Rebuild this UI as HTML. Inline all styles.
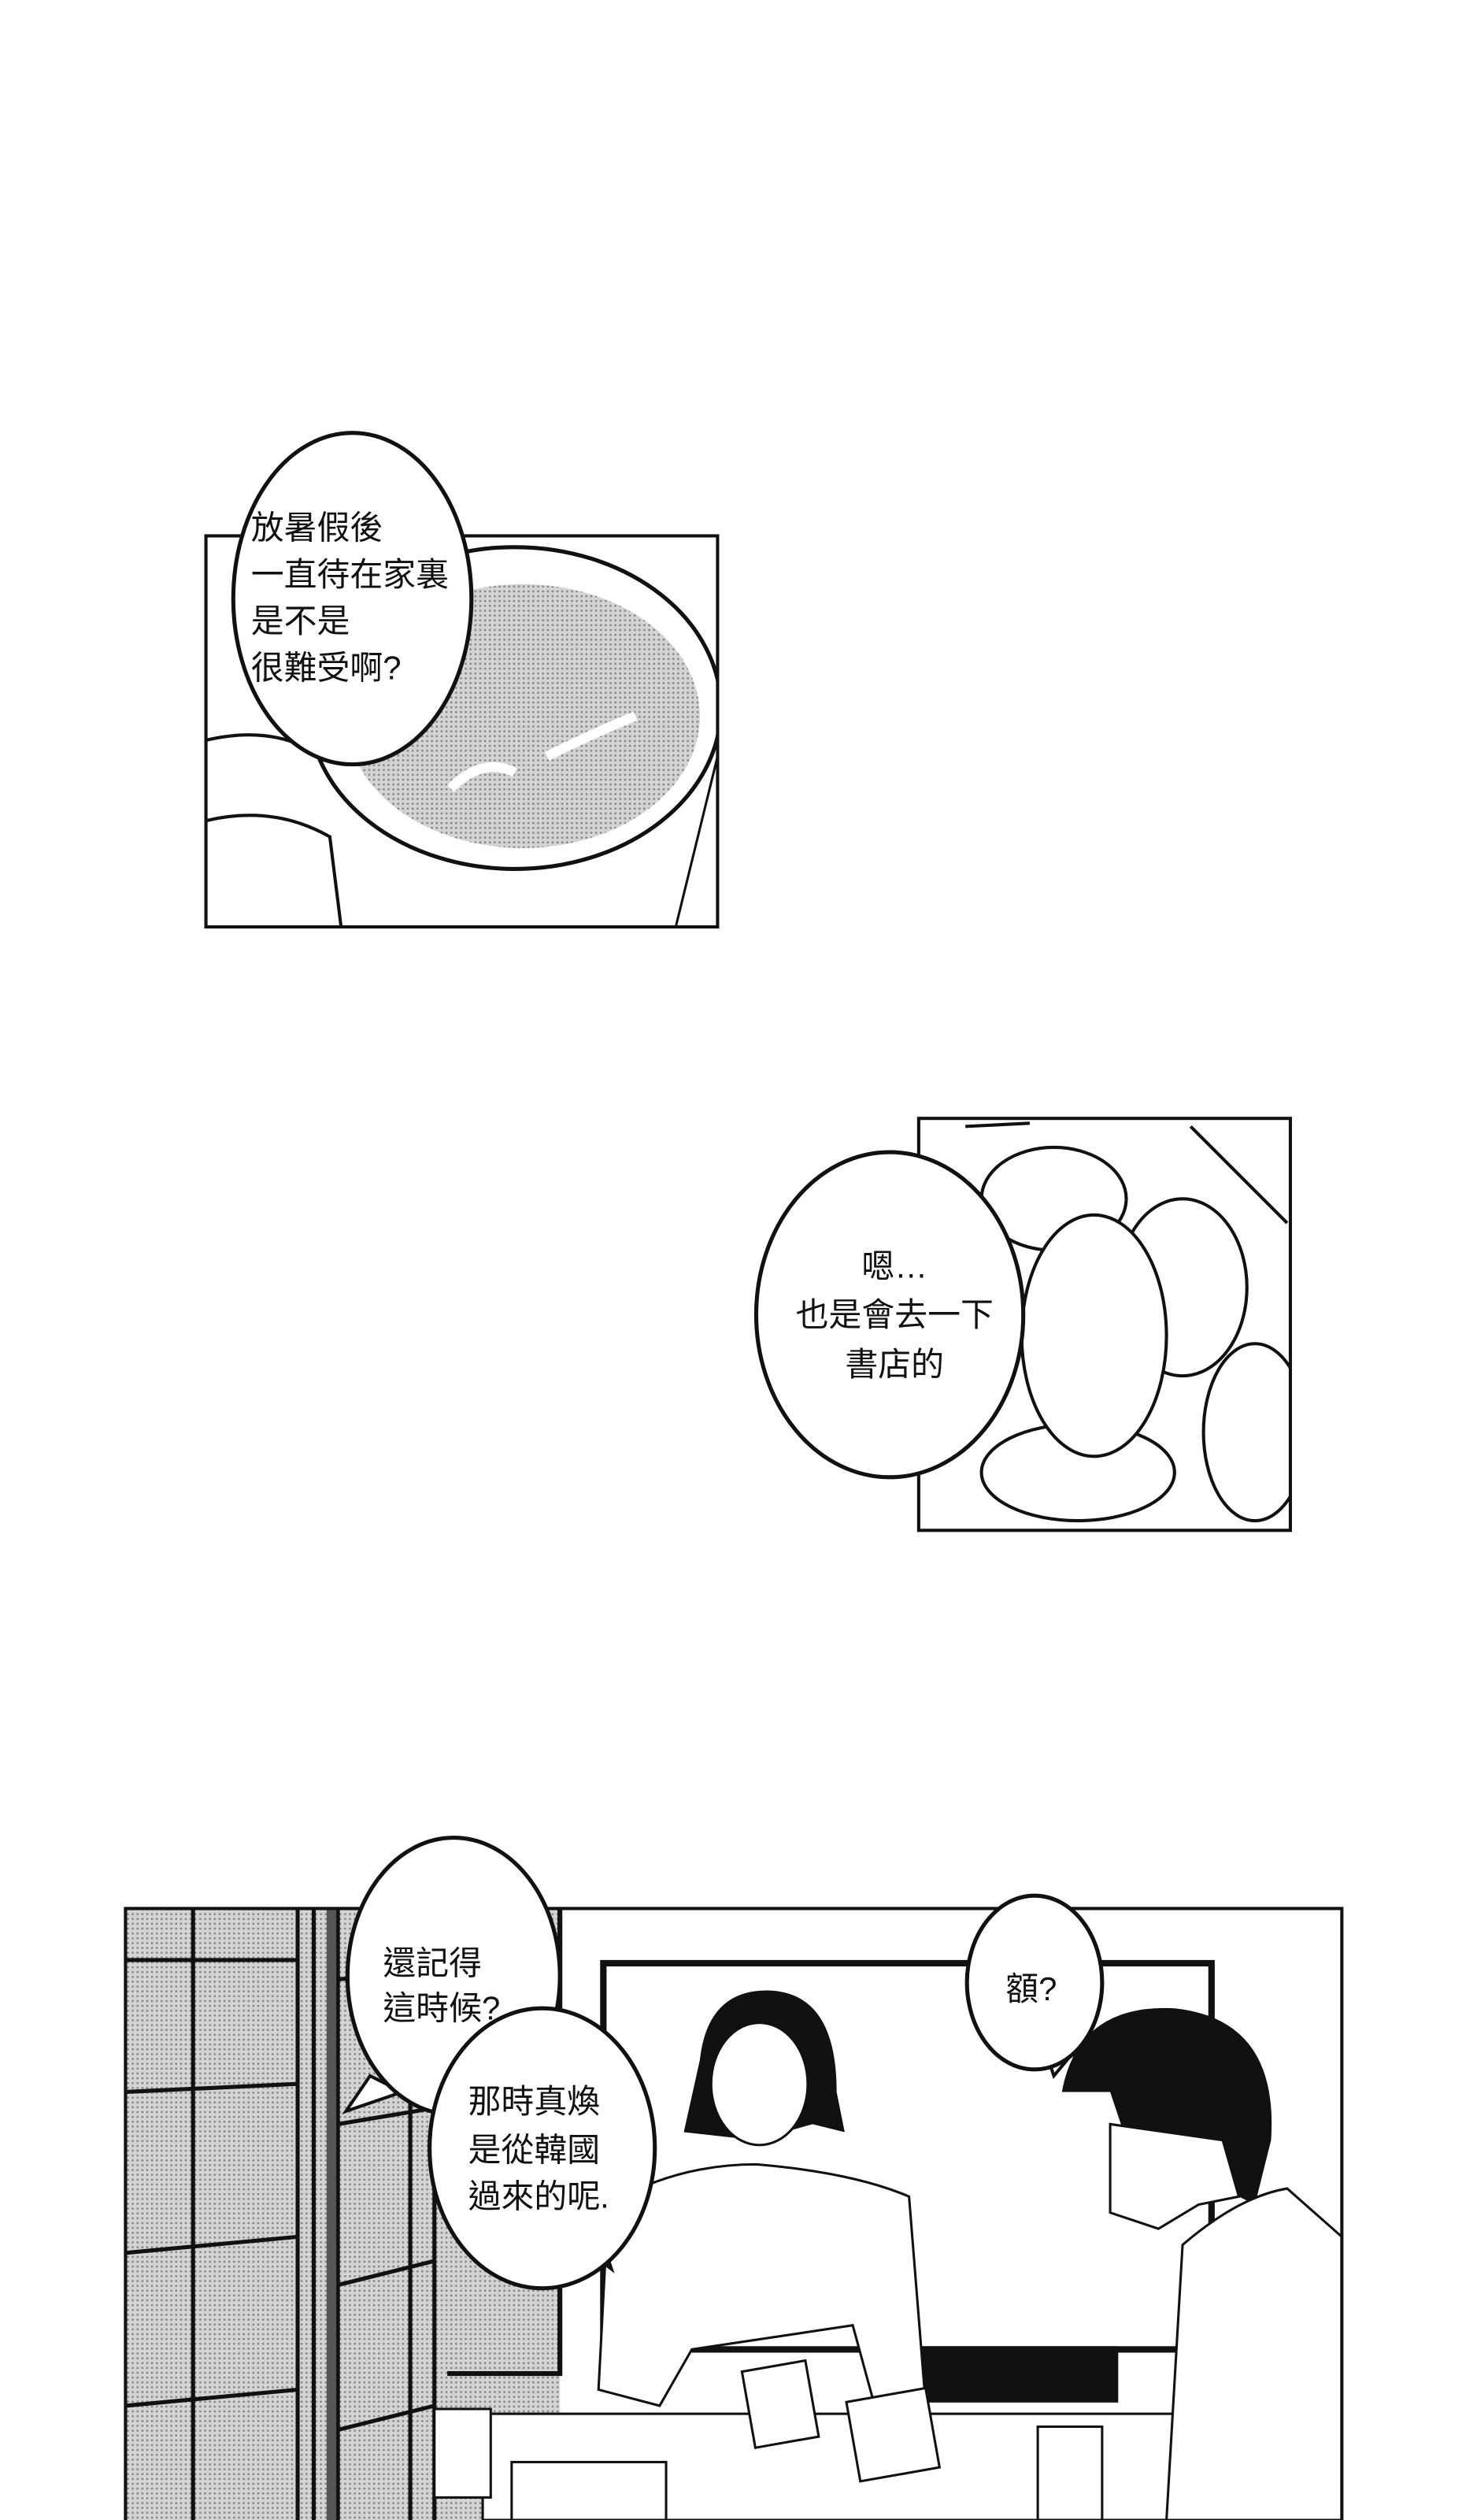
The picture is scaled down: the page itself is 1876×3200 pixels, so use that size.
<!DOCTYPE html>
<html><head><meta charset="utf-8"><style>
html,body{margin:0;padding:0;background:#fff;}
svg{display:block;}
text{font-family:"Liberation Sans","Noto Sans CJK TC",sans-serif;font-size:20.5px;fill:#111;}
</style></head><body>
<svg width="1876" height="3200" viewBox="0 0 918 1566" preserveAspectRatio="none" xmlns="http://www.w3.org/2000/svg">
<defs>
<pattern id="dots" width="3" height="3" patternUnits="userSpaceOnUse"><rect width="3" height="3" fill="#d4d4d4"/><circle cx="1.5" cy="1.5" r="0.7" fill="#888"/></pattern>
<clipPath id="c1"><rect x="128" y="333" width="318" height="243"/></clipPath>
<clipPath id="c2"><rect x="571" y="695" width="231" height="256"/></clipPath>
<clipPath id="c3"><rect x="78" y="1186" width="756" height="380"/></clipPath>
</defs>
<rect width="918" height="1566" fill="#fff"/>

<!-- Panel 1 -->
<g clip-path="url(#c1)">
<ellipse cx="320" cy="440" rx="128" ry="100" fill="#fff" stroke="#111" stroke-width="2.5"/>
<ellipse cx="325" cy="445" rx="110" ry="82" fill="url(#dots)"/>
<path d="M280 490 Q300 470 320 480 M340 470 Q370 455 395 445" stroke="#fff" stroke-width="6" fill="none"/>
<path d="M128 460 Q170 450 200 470 M128 510 Q170 500 205 520 L212 576" stroke="#111" stroke-width="2" fill="none"/>
<path d="M420 576 L446 470" stroke="#111" stroke-width="1.5" fill="none"/>
</g>
<rect x="128" y="333" width="318" height="243" fill="none" stroke="#111" stroke-width="2"/>
<ellipse cx="219" cy="372" rx="74" ry="103" fill="#fff" stroke="#111" stroke-width="2.5"/>
<text x="156" y="335">放暑假後</text>
<text x="156" y="364">一直待在家裏</text>
<text x="156" y="393">是不是</text>
<text x="156" y="422">很難受啊?</text>

<!-- Panel 2 -->
<g clip-path="url(#c2)" fill="#fff" stroke="#111" stroke-width="2">
<ellipse cx="655" cy="745" rx="45" ry="32"/>
<ellipse cx="735" cy="800" rx="40" ry="55"/>
<ellipse cx="780" cy="890" rx="32" ry="55"/>
<ellipse cx="670" cy="915" rx="60" ry="30"/>
<ellipse cx="680" cy="830" rx="45" ry="75"/>
<path d="M600 700 L640 698 M740 700 L800 760" fill="none"/>
</g>
<rect x="571" y="695" width="231" height="256" fill="none" stroke="#111" stroke-width="2"/>
<ellipse cx="553" cy="817" rx="83" ry="101" fill="#fff" stroke="#111" stroke-width="2.5"/>
<text x="556" y="794" text-anchor="middle">嗯…</text>
<text x="556" y="824" text-anchor="middle">也是會去一下</text>
<text x="556" y="855" text-anchor="middle">書店的</text>

<!-- Panel 3 -->
<g clip-path="url(#c3)">
<rect x="78" y="1186" width="270" height="380" fill="url(#dots)"/>
<g stroke="#111" stroke-width="2.5" fill="none">
<path d="M78 1218 L185 1218 M78 1300 L185 1295 M78 1400 L185 1390 M78 1495 L185 1485"/>
<path d="M120 1186 L120 1566 M185 1186 L185 1566 M195 1186 L195 1566 M210 1186 L210 1566 M255 1186 L255 1566 M270 1186 L270 1566"/>
<path d="M210 1230 L270 1225 M210 1320 L270 1310 M210 1420 L270 1405 M210 1510 L270 1495"/>
</g>
<rect x="203" y="1186" width="6" height="380" fill="#555"/>
<path d="M348 1186 V1475 H278" stroke="#111" stroke-width="3" fill="none"/>
<rect x="375" y="1220" width="378" height="240" fill="#fff" stroke="#111" stroke-width="4"/>
<rect x="560" y="1458" width="135" height="35" fill="#111"/>
<rect x="300" y="1500" width="534" height="66" fill="#fff" stroke="#111" stroke-width="1.5"/>
<path d="M435 1280 Q440 1235 480 1237 Q520 1240 520 1300 L525 1325 L505 1320 L470 1330 L425 1325 Z" fill="#111"/>
<ellipse cx="472" cy="1295" rx="30" ry="38" fill="#fff" stroke="#111" stroke-width="1.5"/>
<path d="M445 1270 Q470 1245 500 1262 L500 1250 Q470 1240 445 1262 Z" fill="#111"/>
<path d="M378 1370 Q420 1345 470 1345 Q530 1350 565 1365 L575 1490 L545 1500 L530 1445 L430 1460 L410 1495 L372 1485 Z" fill="#fff" stroke="#111" stroke-width="1.5"/>
<rect x="465" y="1470" width="40" height="48" fill="#fff" stroke="#111" stroke-width="1.5" transform="rotate(-10 485 1494)"/>
<rect x="530" y="1488" width="50" height="50" fill="#fff" stroke="#111" stroke-width="1.5" transform="rotate(-10 555 1513)"/>
<rect x="270" y="1497" width="35" height="55" fill="#fff" stroke="#111" stroke-width="1.5"/>
<rect x="645" y="1508" width="40" height="58" fill="#fff" stroke="#111" stroke-width="1.5"/>
<rect x="318" y="1530" width="96" height="36" fill="#fff" stroke="#111" stroke-width="1.5"/>
<path d="M660 1300 Q670 1245 730 1248 Q795 1255 790 1330 L780 1370 L730 1345 L700 1330 L690 1300 Z" fill="#111"/>
<path d="M690 1320 L690 1375 L720 1385 L745 1370 L770 1365 L760 1330 Z" fill="#fff" stroke="#111" stroke-width="1.5"/>
<path d="M735 1395 Q770 1365 800 1360 L834 1390 L834 1566 L725 1566 Z" fill="#fff" stroke="#111" stroke-width="1.5"/>
</g>
<rect x="78" y="1186" width="756" height="382" fill="none" stroke="#111" stroke-width="2"/>

<path d="M230 1290 L215 1312 L250 1300 Z" fill="#fff" stroke="#111" stroke-width="2"/>
<ellipse cx="282" cy="1228" rx="66" ry="86" fill="#fff" stroke="#111" stroke-width="2.5"/>
<text x="238" y="1227">還記得</text>
<text x="238" y="1255">這時候?</text>
<path d="M370 1380 L380 1410 L360 1395 Z" fill="#fff" stroke="#111" stroke-width="2"/>
<ellipse cx="337" cy="1335" rx="70" ry="87" fill="#fff" stroke="#111" stroke-width="2.5"/>
<text x="291" y="1313">那時真煥</text>
<text x="291" y="1343">是從韓國</text>
<text x="291" y="1372">過來的呢.</text>
<path d="M650 1275 L655 1290 L670 1272 Z" fill="#fff" stroke="#111" stroke-width="2"/>
<ellipse cx="643" cy="1232" rx="42" ry="54" fill="#fff" stroke="#111" stroke-width="2.5"/>
<text x="625" y="1243">額?</text>
</svg>
</body></html>
